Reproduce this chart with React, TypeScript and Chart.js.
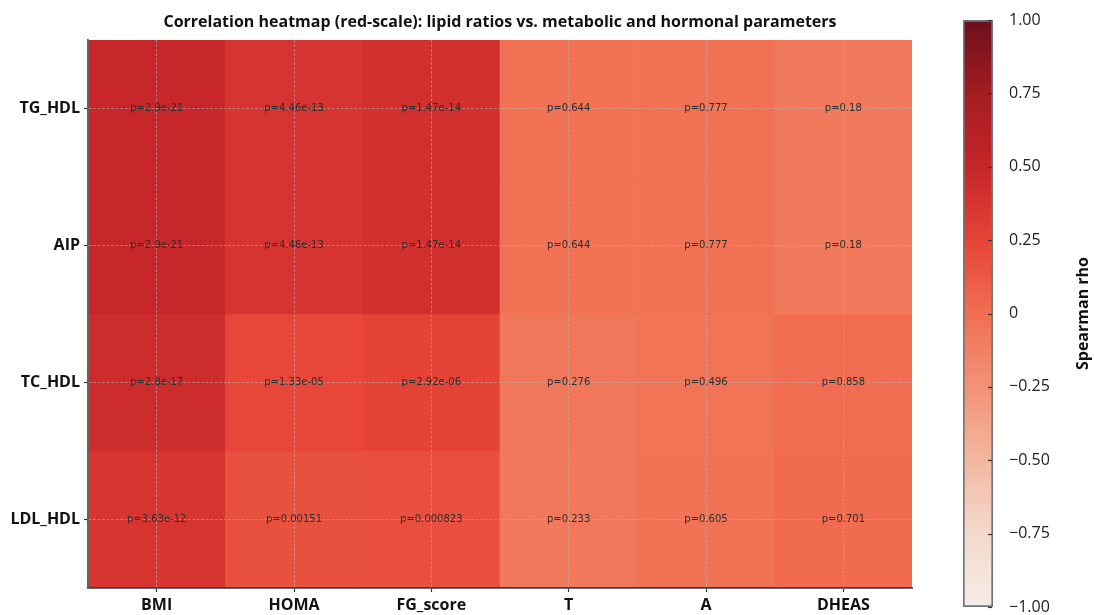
import React, { useEffect, useRef } from 'react';
import { Chart, registerables } from 'chart.js';

Chart.register(...registerables);

// ---- data ----
const rowLabels = ['TG_HDL', 'AIP', 'TC_HDL', 'LDL_HDL'];
const colLabels = ['BMI', 'HOMA', 'FG_score', 'T', 'A', 'DHEAS'];

const rhoTG_HDL = [0.49, 0.38, 0.41, -0.026, -0.016, -0.075];
const rhoAIP = [0.49, 0.38, 0.41, -0.026, -0.016, -0.075];
const rhoTC_HDL = [0.44, 0.24, 0.26, -0.061, -0.038, 0.01];
const rhoLDL_HDL = [0.37, 0.175, 0.185, -0.067, -0.029, 0.021];

const pTG_HDL = ['p=2.9e-21', 'p=4.46e-13', 'p=1.47e-14', 'p=0.644', 'p=0.777', 'p=0.18'];
const pAIP = ['p=2.9e-21', 'p=4.46e-13', 'p=1.47e-14', 'p=0.644', 'p=0.777', 'p=0.18'];
const pTC_HDL = ['p=2.8e-17', 'p=1.33e-05', 'p=2.92e-06', 'p=0.276', 'p=0.496', 'p=0.858'];
const pLDL_HDL = ['p=3.63e-12', 'p=0.00151', 'p=0.000823', 'p=0.233', 'p=0.605', 'p=0.701'];

const colorbarTicks = [-1, -0.75, -0.5, -0.25, 0, 0.25, 0.5, 0.75, 1];

const titleText = 'Correlation heatmap (red-scale): lipid ratios vs. metabolic and hormonal parameters';
const colorbarTitle = 'Spearman rho';

// matplotlib "Reds" colormap anchors
const REDS: number[][] = [
  [255, 245, 240],
  [254, 224, 210],
  [252, 187, 161],
  [252, 146, 114],
  [251, 106, 74],
  [239, 59, 44],
  [203, 24, 29],
  [165, 15, 21],
  [103, 0, 13],
];

// slight muting as seen in the reference rendering
function mute(c: number[]): string {
  const m = c.map((v) => Math.round(v * 0.9 + 15));
  return `rgb(${m[0]},${m[1]},${m[2]})`;
}

function reds(t: number): string {
  const tt = Math.max(0, Math.min(1, t)) * (REDS.length - 1);
  const i = Math.min(REDS.length - 2, Math.floor(tt));
  const f = tt - i;
  const a = REDS[i];
  const b = REDS[i + 1];
  return mute(a.map((v, k) => v + (b[k] - v) * f));
}

const rhoRows = [rhoTG_HDL, rhoAIP, rhoTC_HDL, rhoLDL_HDL];
const pRows = [pTG_HDL, pAIP, pTC_HDL, pLDL_HDL];

const FONT = '"Open Sans", "DejaVu Sans", sans-serif';

function fmtTick(v: number): string {
  if (Math.abs(v) < 1e-9) return '0';
  return (v < 0 ? '\u2212' : '') + Math.abs(v).toFixed(2);
}

export default function App() {
  const mainRef = useRef<HTMLCanvasElement>(null);
  const cbRef = useRef<HTMLCanvasElement>(null);

  useEffect(() => {
    document.body.style.margin = '0';
    const mainCanvas = mainRef.current!;
    const cbCanvas = cbRef.current!;

    const overlay = {
      id: 'overlay',
      afterDraw(chart: any) {
        const { ctx, chartArea } = chart;
        const xs = chart.scales.x;
        const ys = chart.scales.y;
        ctx.save();
        ctx.fillStyle = '#111';
        ctx.font = `bold 16px ${FONT}`;
        ctx.textAlign = 'center';
        ctx.textBaseline = 'middle';
        ctx.fillText(titleText, (chartArea.left + chartArea.right) / 2, 22);
        ctx.font = '10px "DejaVu Sans", sans-serif';
        ctx.fillStyle = '#2e2e2e';
        pRows.forEach((row, i) => {
          row.forEach((txt, j) => {
            const x = xs.getPixelForValue(j);
            const y = ys.getPixelForValue(i + 0.5);
            ctx.fillText(txt, x, y);
          });
        });
        ctx.restore();
      },
    };

    const datasets = rowLabels.map((r, i) => ({
      label: r,
      data: colLabels.map(() => [i, i + 1]),
      backgroundColor: rhoRows[i].map((v) => reds((v + 1) / 2)),
      borderWidth: 0,
      barPercentage: 1,
      categoryPercentage: 1,
      grouped: false,
    }));

    const gridCommon = {
      z: 1,
      color: 'rgba(185,185,185,0.75)',
      lineWidth: 0.8,
      tickColor: '#333',
      tickLength: 4,
      tickWidth: 1.2,
      tickBorderDash: [],
    };

    const main = new Chart(mainCanvas, {
      type: 'bar',
      data: { labels: colLabels, datasets: datasets as any },
      options: {
        animation: false,
        responsive: false,
        layout: { padding: { top: 40, right: 88, left: 0, bottom: 0 } },
        plugins: {
          legend: { display: false },
          tooltip: { enabled: false },
          title: { display: false },
        },
        scales: {
          x: {
            type: 'category',
            offset: true,
            grid: { ...gridCommon, offset: false } as any,
            border: { color: '#3a3f44', width: 1.8, dash: [2.5, 2], z: 2 } as any,
            ticks: {
              font: { family: FONT, size: 16, weight: 'bold' },
              color: '#111',
              padding: 4,
              maxRotation: 0,
              autoSkip: false,
            },
            afterFit: (s: any) => {
              s.height = 27;
            },
          },
          y: {
            type: 'linear',
            min: 0,
            max: 4,
            reverse: true,
            afterBuildTicks: (s: any) => {
              s.ticks = [0.5, 1.5, 2.5, 3.5].map((value) => ({ value }));
            },
            grid: gridCommon as any,
            border: { color: '#5d656b', width: 1.8, dash: [2.5, 2], z: 2 } as any,
            ticks: {
              font: { family: FONT, size: 16, weight: 'bold' },
              color: '#111',
              padding: 4,
              callback: (v: any) => rowLabels[Math.floor(Number(v))] ?? '',
            },
            afterFit: (s: any) => {
              s.width = 88;
            },
          },
        },
      },
      plugins: [overlay],
    });

    const cbPlugin = {
      id: 'cbdeco',
      afterDraw(chart: any) {
        const { ctx, chartArea } = chart;
        const ys = chart.scales.y;
        ctx.save();
        ctx.strokeStyle = '#333';
        ctx.lineWidth = 1.2;
        colorbarTicks.forEach((v) => {
          const y = Math.round(ys.getPixelForValue(v)) + 0.5;
          ctx.beginPath();
          ctx.moveTo(chartArea.right - 5, y);
          ctx.lineTo(chartArea.right - 1, y);
          ctx.stroke();
        });
        ctx.translate(143, (chartArea.top + chartArea.bottom) / 2);
        ctx.rotate(-Math.PI / 2);
        ctx.fillStyle = '#111';
        ctx.font = `bold 16px ${FONT}`;
        ctx.textAlign = 'center';
        ctx.textBaseline = 'middle';
        ctx.fillText(colorbarTitle, 0, 0);
        ctx.restore();
      },
    };

    const cb = new Chart(cbCanvas, {
      type: 'bar',
      data: {
        labels: ['rho'],
        datasets: [
          {
            data: [[-1, 1]] as any,
            backgroundColor: (c: any) => {
              const a = c.chart.chartArea;
              if (!a) return 'rgb(240,110,82)';
              const g = c.chart.ctx.createLinearGradient(0, a.bottom, 0, a.top);
              REDS.forEach((col, k) => g.addColorStop(k / (REDS.length - 1), mute(col)));
              return g;
            },
            borderColor: '#6f777d',
            borderWidth: 2,
            borderSkipped: false,
            barPercentage: 1,
            categoryPercentage: 1,
          } as any,
        ],
      },
      options: {
        animation: false,
        responsive: false,
        layout: { padding: { left: 23, top: 20, bottom: 8, right: 0 } },
        plugins: { legend: { display: false }, tooltip: { enabled: false } },
        scales: {
          x: { display: false, offset: true },
          y: {
            position: 'right',
            min: -1,
            max: 1,
            afterBuildTicks: (s: any) => {
              s.ticks = colorbarTicks.map((value) => ({ value }));
            },
            grid: {
              drawOnChartArea: false,
              drawTicks: true,
              tickLength: 16,
              tickColor: 'rgba(0,0,0,0)',
            },
            border: { display: false },
            ticks: {
              font: { family: FONT, size: 16, lineHeight: 1 },
              color: '#222',
              padding: 0,
              autoSkip: false,
              callback: (v: any) => fmtTick(Number(v)),
            },
            afterFit: (s: any) => {
              s.width = 101;
            },
          },
        },
      },
      plugins: [cbPlugin],
    });

    return () => {
      main.destroy();
      cb.destroy();
    };
  }, []);

  return (
    <div style={{ position: 'relative', width: 1094, height: 615, background: '#fff', overflow: 'hidden' }}>
      <canvas
        ref={mainRef}
        width={1000}
        height={615}
        style={{ position: 'absolute', left: 0, top: 0, width: 1000, height: 615 }}
      />
      <canvas
        ref={cbRef}
        width={154}
        height={615}
        style={{ position: 'absolute', left: 940, top: 0, width: 154, height: 615 }}
      />
    </div>
  );
}
